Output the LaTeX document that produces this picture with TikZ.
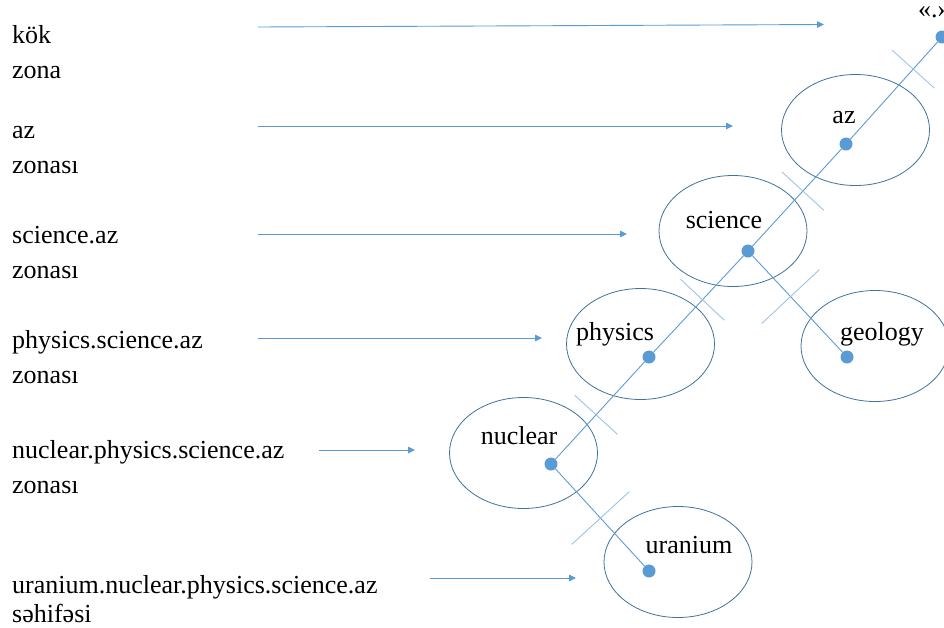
\documentclass[tikz,border=0pt]{standalone}
\usepackage{fontspec}
\setmainfont{Liberation Serif}
\usepackage{tikz}
\usetikzlibrary{arrows.meta,calc,shapes.geometric}
\definecolor{TreeBlue}{HTML}{5B9BD5}
\definecolor{TreeEdge}{HTML}{41719C}
\definecolor{TreeTick}{HTML}{9DC3E6}

\begin{document}
\begin{tikzpicture}[>={Triangle[length=7pt,width=6.5pt]},x=1pt,y=-1pt,
  font=\fontsize{26}{35}\selectfont,
  zone/.style={ellipse,draw=TreeEdge,line width=0.8pt,minimum width=148pt,minimum height=111pt,inner sep=0pt},
  dot/.style={circle,fill=TreeBlue,minimum size=13pt,inner sep=0pt},
  link/.style={TreeBlue,line width=0.9pt},
  cut/.style={TreeTick,line width=0.9pt},
  pointer/.style={->,TreeBlue,line width=0.9pt},
  caption/.style={anchor=base west,align=left,inner sep=0pt},
  word/.style={anchor=base,inner sep=0pt}]
  \useasboundingbox (0,0) rectangle (944,627);
  % level names on the left (anchored at the second line)
  \node[caption] (lroot) at (12,78) {kök\\zona};
  \node[caption] (laz) at (12,173) {az\\zonası};
  \node[caption] (lscience) at (12,278) {science.az\\zonası};
  \node[caption] (lphysics) at (12,383) {physics.science.az\\zonası};
  \node[caption] (lnuclear) at (12,493) {nuclear.physics.science.az\\zonası};
  \node[caption] (luranium) at (12,622) {uranium.nuclear.physics.science.az\\[-6pt]səhifəsi};
  % zones
  \node[zone] (azzone) at (855.5,130) {};
  \node[zone] (sciencezone) at (733,231) {};
  \node[zone] (physicszone) at (640.5,344) {};
  \node[zone] (geologyzone) at (875,346) {};
  \node[zone] (nuclearzone) at (523.5,453) {};
  \node[zone] (uraniumzone) at (678,562) {};
  \node[word] (rootword) at (918,17) [anchor=base west] {«.»};
  \node[word] (azword) at (844,123) {az};
  \node[word] (scienceword) at (724,228) {science};
  \node[word] (physicsword) at (615,340) {physics};
  \node[word] (geologyword) at (882,340) {geology};
  \node[word] (nuclearword) at (519,444) {nuclear};
  \node[word] (uraniumword) at (689,553) {uranium};
  % tree
  \node[dot] (root) at (942,37) {};
  \node[dot] (azdot) at (846,144) {};
  \node[dot] (sciencedot) at (748,251) {};
  \node[dot] (physicsdot) at (649,357) {};
  \node[dot] (geologydot) at (847,357) {};
  \node[dot] (nucleardot) at (551,464) {};
  \node[dot] (uraniumdot) at (649,571) {};
  \draw[link] (root)--(azdot)--(sciencedot)--(physicsdot)--(nucleardot)--(uraniumdot);
  \draw[link] (sciencedot)--(geologydot);
  \foreach \a/\b/\f/\h in {root/azdot/0.30/28.5,azdot/sciencedot/0.44/28.5,
      sciencedot/physicsdot/0.46/30,sciencedot/geologydot/0.43/39.5,
      physicsdot/nucleardot/0.54/29,nucleardot/uraniumdot/0.505/39}
    \draw[cut] ($(\a)!\f!(\b)!\h pt!90:(\b)$)--($(\a)!\f!(\b)!\h pt!-90:(\b)$);
  % arrows from the names to the levels
  \foreach \i/\xa/\ya/\xb/\yb in {1/258/27/824/24.5,2/258/126/733/126,3/258/234/627/234,
      4/258/338/542/338,5/319/450/415/450,6/430/578/576/578}{
    \coordinate (from\i) at (\xa,\ya);
    \coordinate (to\i) at (\xb,\yb);
    \draw[pointer] (from\i)--(to\i);
  }
\end{tikzpicture}
\end{document}
